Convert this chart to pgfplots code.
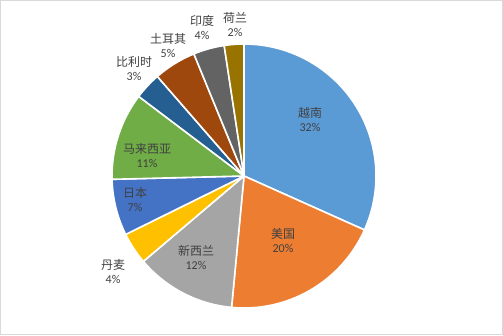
\documentclass[border=0pt]{standalone}
\usepackage{pgfplots}
\pgfplotsset{compat=1.18}
\usepackage{pgfplotstable}
\usepackage{fontspec}
\setmainfont{Carlito}
\newfontfamily\cjk{Noto Sans CJK SC}
\definecolor{c0}{HTML}{5B9BD5}
\definecolor{c1}{HTML}{ED7D31}
\definecolor{c2}{HTML}{A5A5A5}
\definecolor{c3}{HTML}{FFC000}
\definecolor{c4}{HTML}{4472C4}
\definecolor{c5}{HTML}{70AD47}
\definecolor{c6}{HTML}{255E91}
\definecolor{c7}{HTML}{9E480E}
\definecolor{c8}{HTML}{636363}
\definecolor{c9}{HTML}{997300}
\definecolor{textc}{HTML}{404040}
\definecolor{framec}{HTML}{D9D9D9}
\pgfplotstableread{
name v p lx ly
越南 31.7 32 310 119.5
美国 19.8 20 283 240
新西兰 12.3 12 196 257
丹麦 3.9 4 113 272
日本 6.9 7 135 200
马来西亚 10.7 11 147 156
比利时 3.3 3 134 69
土耳其 5.2 5 168 46
印度 3.8 4 202 27
荷兰 2.4 2 235 25
}\data
\begin{document}
\begin{tikzpicture}
\begin{axis}[x=1pt,y=1pt,xmin=0,xmax=503,ymin=0,ymax=335,hide axis,clip=false,scale only axis]
\draw[framec, line width=1pt] (axis cs:0.5,0.5) rectangle (axis cs:502.5,334.5);
\def\startang{90}
\pgfplotsforeachungrouped \i in {0,...,9}{%
  \pgfplotstablegetelem{\i}{v}\of\data \let\val\pgfplotsretval
  \pgfmathsetmacro\endang{\startang-3.6*\val}%
  \edef\cmd{\noexpand\filldraw[fill=c\i, draw=white, line width=1.6pt, line join=round] (axis cs:244,159) -- ++(\startang:132pt) arc[start angle=\startang, end angle=\endang, radius=132pt] -- cycle;}%
  \cmd
  \global\let\startang\endang
}
\pgfplotsforeachungrouped \i in {0,...,9}{%
  \pgfplotstablegetelem{\i}{name}\of\data \let\nm\pgfplotsretval
  \pgfplotstablegetelem{\i}{p}\of\data \let\pp\pgfplotsretval
  \pgfplotstablegetelem{\i}{lx}\of\data \let\lx\pgfplotsretval
  \pgfplotstablegetelem{\i}{ly}\of\data \let\ly\pgfplotsretval
  \pgfmathsetmacro\yy{335-\ly}%
  \edef\cmd{\noexpand\node[align=center, text=textc, inner sep=0pt, font=\noexpand\fontsize{12}{14}\noexpand\selectfont] at (axis cs:\lx,\yy) {{\noexpand\cjk \nm}\noexpand\\ \pp\noexpand\%};}%
  \cmd
}
\end{axis}
\end{tikzpicture}
\end{document}
